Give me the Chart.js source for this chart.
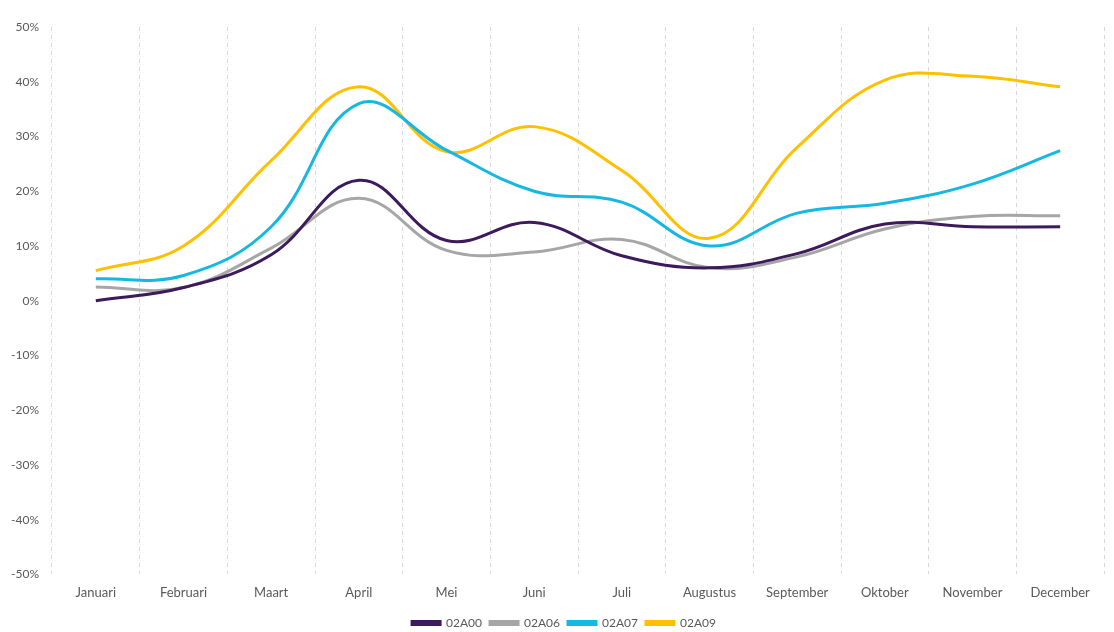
<!DOCTYPE html>
<html>
<head>
<meta charset="utf-8">
<script src="https://cdn.jsdelivr.net/npm/chart.js@4.4.0/dist/chart.umd.min.js"></script>
<style>
html,body{margin:0;padding:0;background:#fff;}
#wrap{width:1114px;height:632px;position:relative;}
</style>
</head>
<body>
<div id="wrap"><canvas id="c" width="1114" height="632"></canvas></div>
<script>
const categories = ["Januari","Februari","Maart","April","Mei","Juni","Juli","Augustus","September","Oktober","November","December"];
const s02A00 = [0, 2.4, 8.4, 22, 11, 14.3, 8.2, 6, 8.6, 14, 13.5, 13.5];
const s02A06 = [2.5, 2.4, 9.6, 18.7, 9.2, 8.9, 11.2, 6, 8, 13.1, 15.4, 15.5];
const s02A07 = [4, 4.6, 13.5, 36, 27.5, 20, 18, 10, 16, 17.8, 21.3, 27.4];
const s02A09 = [5.5, 10, 25.6, 39.1, 27.2, 31.8, 23.8, 11.4, 28, 40.3, 41, 39.1];
const seriesNames = ["02A00","02A06","02A07","02A09"];
const seriesColors = ["#3d1a5b","#a6a6a6","#14b8e0","#ffc000"];
const yTicks = [-50,-40,-30,-20,-10,0,10,20,30,40,50];

const FONT = "Lato, 'Open Sans', sans-serif";
const allSeries = [s02A00, s02A06, s02A07, s02A09];
const datasets = allSeries.map((d,i)=>({
  label: seriesNames[i],
  data: d,
  borderColor: seriesColors[i],
  backgroundColor: seriesColors[i],
  borderWidth: 3,
  pointRadius: 0,
  tension: 0.4,
  fill: false
}));

// shift the legend block slightly right, as in the reference
const legendShift = {
  id: 'legendShift',
  afterLayout(chart) {
    if (chart.legend) { chart.legend.left += 12; chart.legend.right += 12; }
  }
};

new Chart(document.getElementById('c'), {
  type: 'line',
  data: { labels: categories, datasets },
  plugins: [legendShift],
  options: {
    responsive: false,
    animation: false,
    layout: { padding: { left: 0, right: 10, top: 27, bottom: -7 } },
    plugins: {
      legend: {
        position: 'bottom',
        labels: {
          boxWidth: 28, boxHeight: 3,
          color: '#595959',
          font: { family: FONT, size: 12 },
          padding: 8
        }
      },
      tooltip: { enabled: false }
    },
    scales: {
      x: {
        offset: true,
        afterFit: (axis) => { axis.height -= 3; },
        grid: { offset: true, display: true, color: '#d9d9d9', lineWidth: 1, drawTicks: false },
        border: { display: false, dash: [4,4] },
        ticks: { color: '#595959', font: { family: FONT, size: 13 }, padding: 11, maxRotation: 0 }
      },
      y: {
        min: -50, max: 50,
        afterBuildTicks: (axis) => { axis.ticks = yTicks.map(v => ({ value: v })); },
        afterFit: (axis) => { axis.width = 52; },
        grid: { display: false, drawTicks: false },
        border: { display: false },
        ticks: { color: '#595959', font: { family: FONT, size: 12 }, padding: 13, callback: v => v + '%' }
      }
    }
  }
});
</script>
</body>
</html>
